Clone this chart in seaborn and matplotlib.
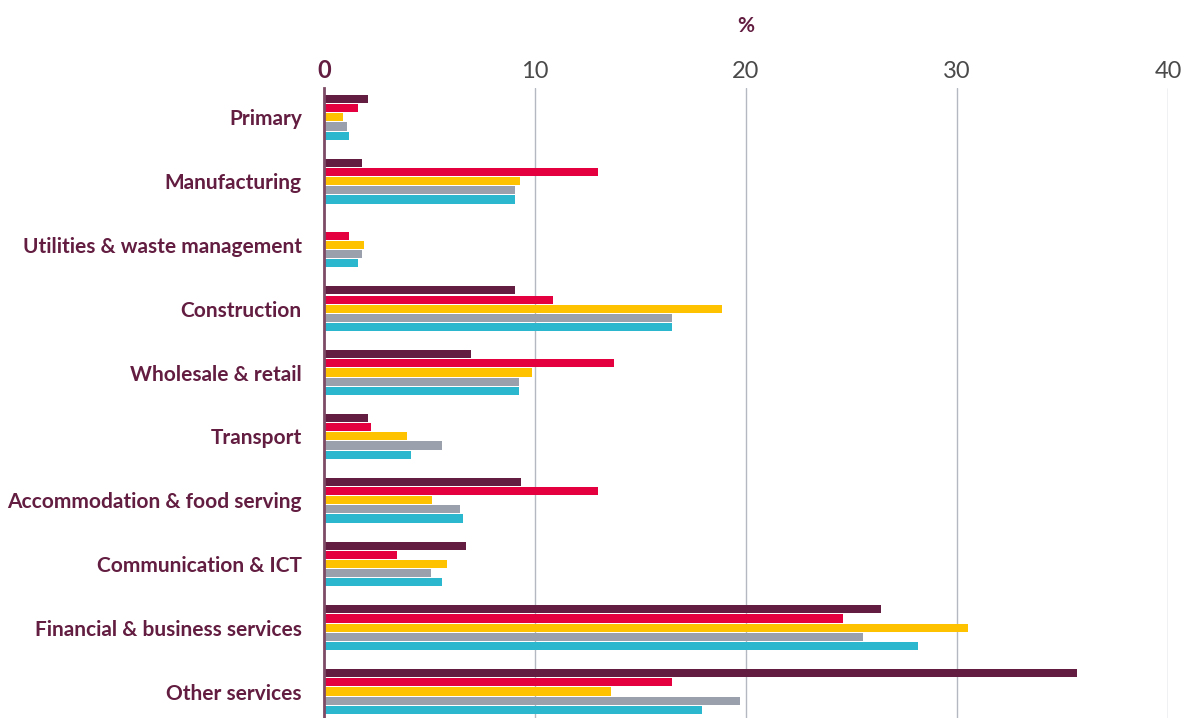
import matplotlib
matplotlib.use("Agg")
import matplotlib.pyplot as plt
import pandas as pd
import seaborn as sns

categorias = [
    "Primary", "Manufacturing", "Utilities & waste management", "Construction",
    "Wholesale & retail", "Transport", "Accommodation & food serving",
    "Communication & ICT", "Financial & business services", "Other services",
]
series = ["Series 1", "Series 2", "Series 3", "Series 4", "Series 5"]
valores_1 = [2.1, 1.8, 0.0, 9.05, 6.95, 2.1, 9.35, 6.75, 26.4, 35.7]
valores_2 = [1.6, 13.0, 1.2, 10.85, 13.75, 2.25, 13.0, 3.45, 24.6, 16.5]
valores_3 = [0.9, 9.3, 1.9, 18.85, 9.85, 3.95, 5.1, 5.85, 30.5, 13.6]
valores_4 = [1.1, 9.05, 1.8, 16.5, 9.25, 5.6, 6.45, 5.05, 25.55, 19.7]
valores_5 = [1.2, 9.05, 1.6, 16.5, 9.25, 4.1, 6.6, 5.6, 28.15, 17.9]
ticks_x = [0, 10, 20, 30, 40]

cores = ["#621d40", "#e4003f", "#ffc200", "#9aa0ac", "#2bb8cf"]
bordo = "#621d40"

linhas = []
for nome, vals in zip(series, [valores_1, valores_2, valores_3, valores_4, valores_5]):
    for cat, v in zip(categorias, vals):
        linhas.append({"categoria": cat, "serie": nome, "valor": v})
df = pd.DataFrame(linhas)

sns.set_style("white")
plt.rcParams["font.family"] = ["Lato", "DejaVu Sans"]

fig = plt.figure(figsize=(11.86, 7.18), dpi=100)
ax = fig.add_axes([324 / 1186, 0, (1168 - 324) / 1186, 630 / 718])

sns.barplot(
    data=df, y="categoria", x="valor", hue="serie", orient="h",
    palette=cores, width=0.72, gap=0.12, legend=False, ax=ax,
    saturation=1, linewidth=0,
)

ax.set_xlim(0, 40)
ax.set_ylim(9.415, -0.46)

# eixo x no topo
ax.xaxis.tick_top()
ax.xaxis.set_label_position("top")
ax.set_xticks(ticks_x)
ax.set_xticklabels([str(t) for t in ticks_x], fontsize=17, fontweight="normal", color="#4a4a4a")
rotulos = ax.get_xticklabels()
rotulos[0].set_color(bordo)
rotulos[0].set_fontweight("bold")
ax.tick_params(axis="x", length=0, pad=4)
ax.set_xlabel("%", fontsize=15, color=bordo, fontweight="bold", labelpad=20)

ax.set_yticks(range(len(categorias)))
ax.set_yticklabels(categorias, fontsize=15, fontweight="bold", color=bordo)
ax.tick_params(axis="y", length=0, pad=16)
ax.set_ylabel("")

ax.grid(True, axis="x", color="#b4b8c0", linewidth=1)
ax.set_axisbelow(True)
for spine in ax.spines.values():
    spine.set_visible(False)
ax.spines["left"].set_visible(True)
ax.spines["left"].set_color("#7d4b66")
ax.spines["left"].set_linewidth(2)
ax.spines["left"].set_zorder(5)

fig.savefig("out.png", dpi=100)
